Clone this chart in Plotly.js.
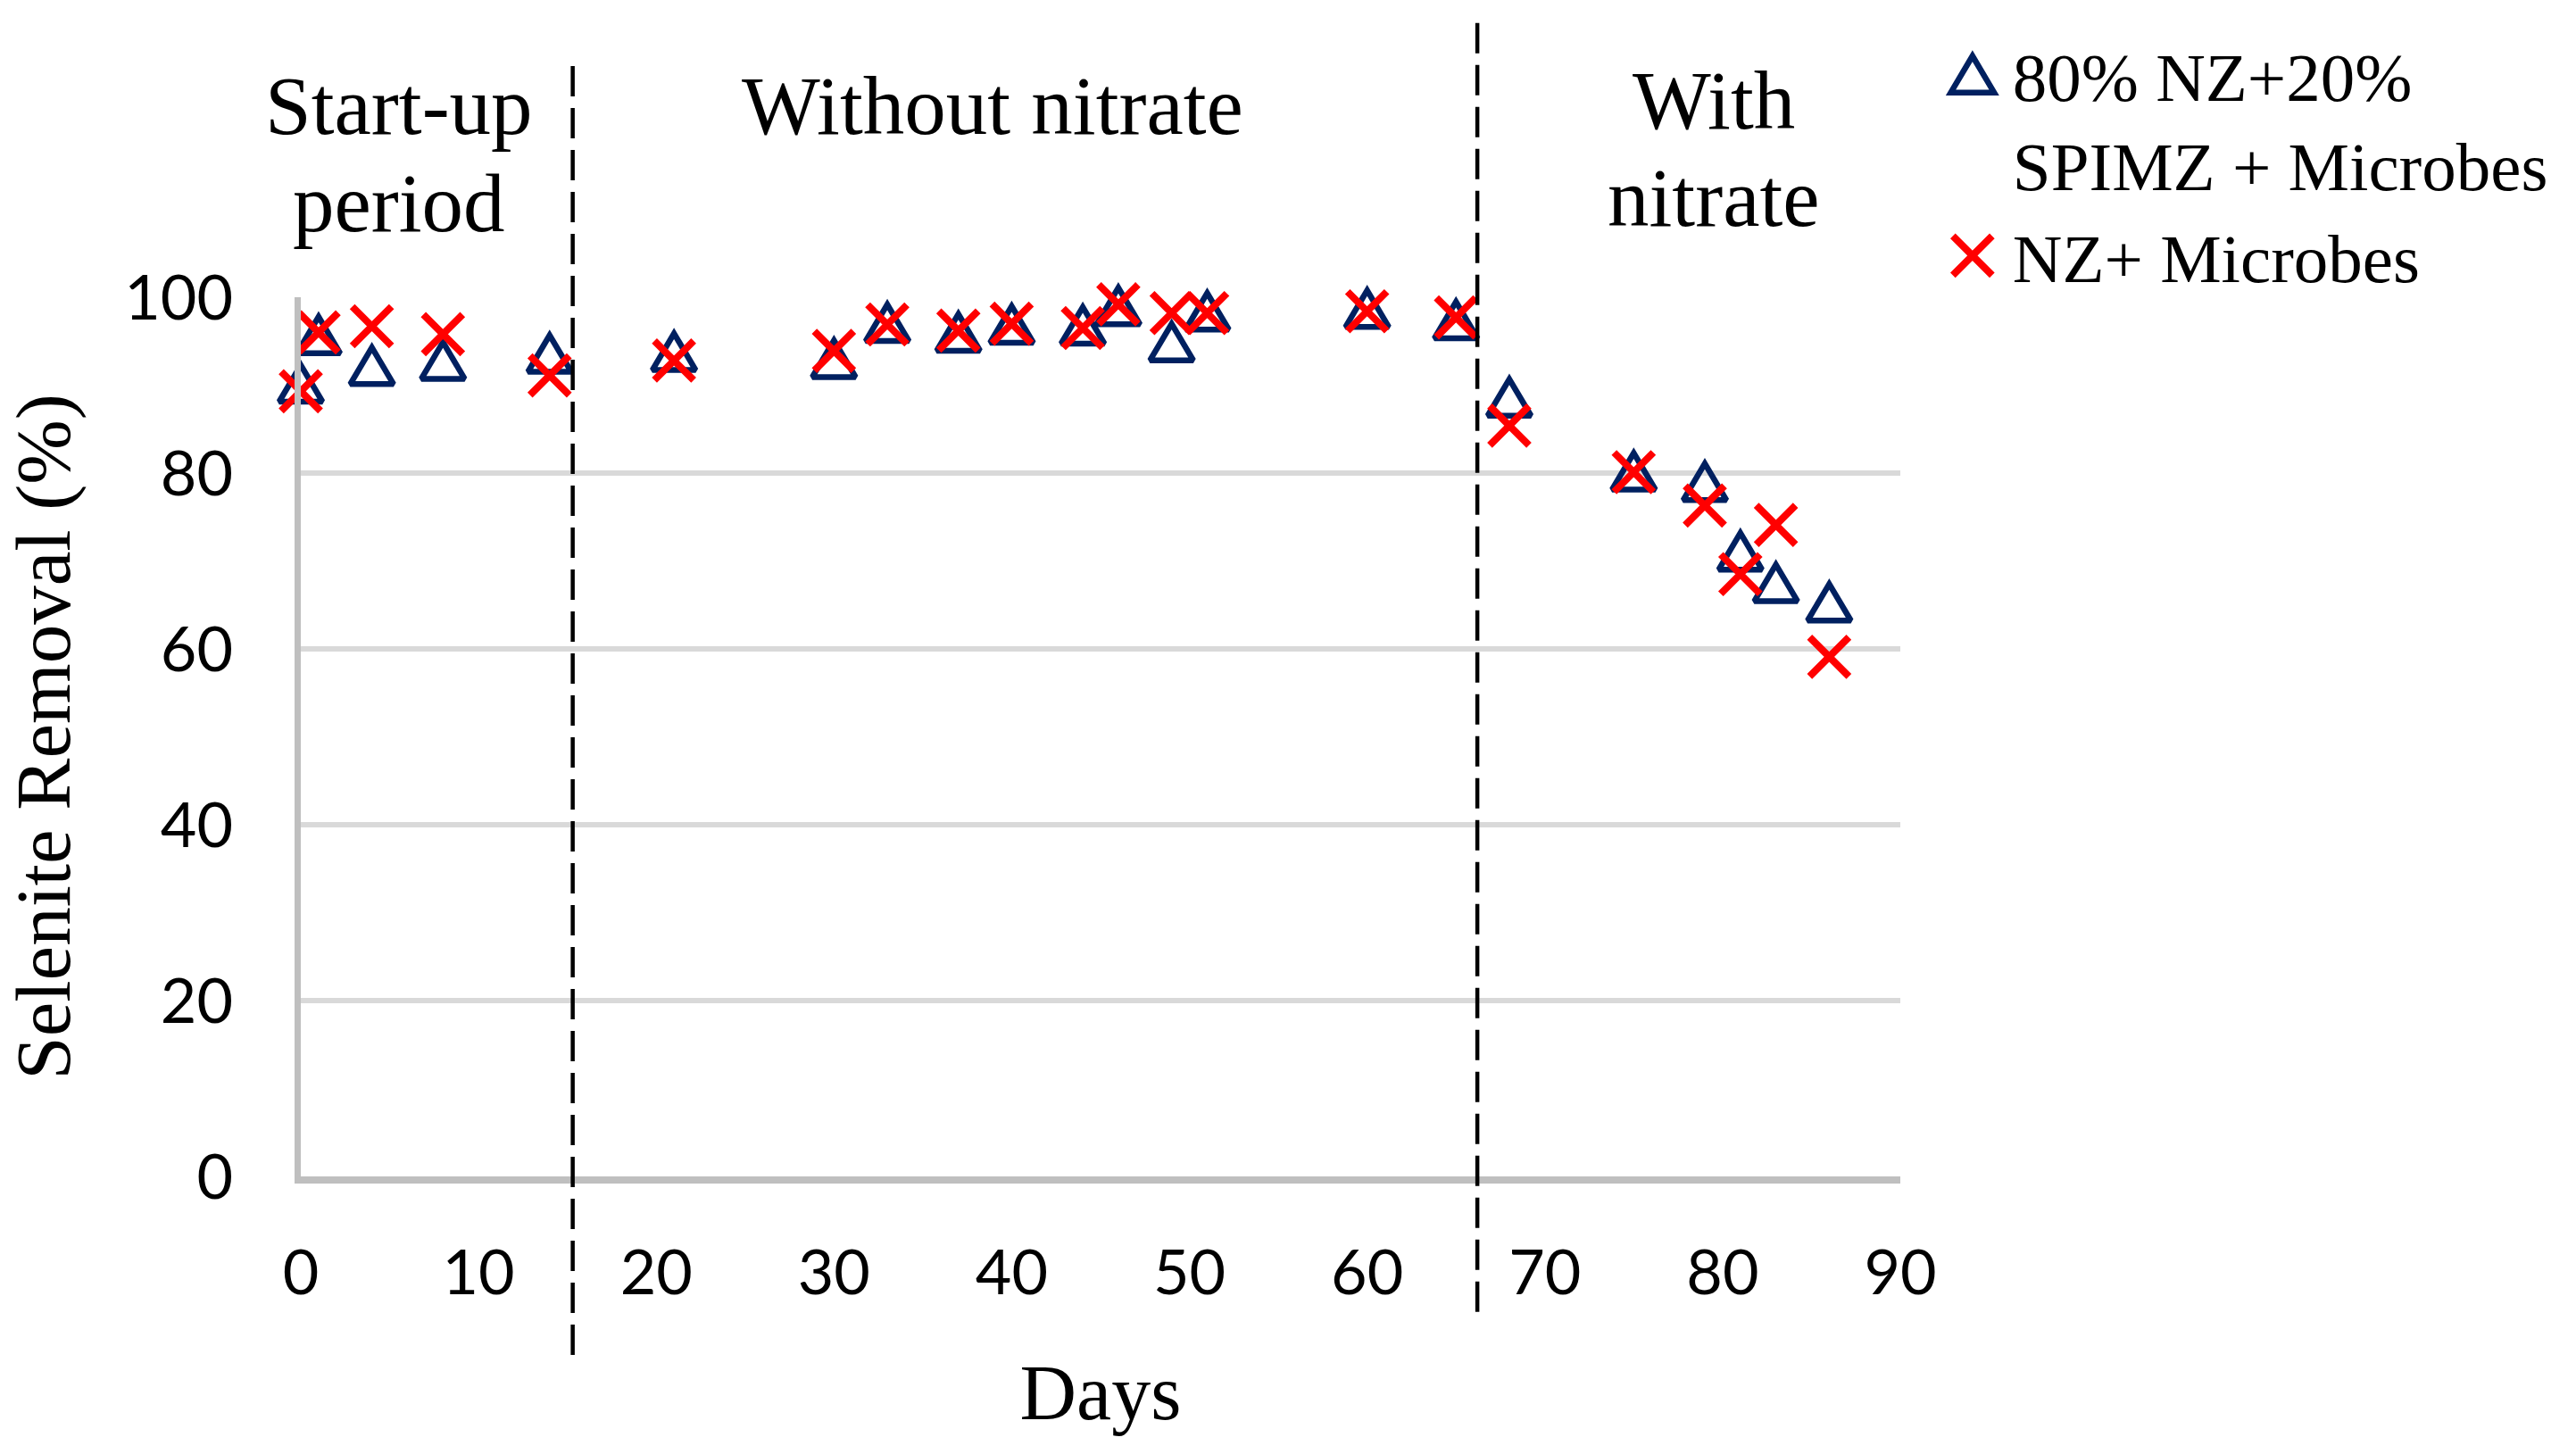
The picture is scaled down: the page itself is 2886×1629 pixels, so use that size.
<!DOCTYPE html>
<html><head><meta charset="utf-8">
<script src="https://cdn.plot.ly/plotly-3.0.1.min.js"></script>
<style>html,body{margin:0;padding:0;background:#fff;} #chart{width:2886px;height:1629px;}</style>
</head><body><div id="chart"></div>
<script>
const days = [0,1,4,8,14,21,30,33,37,40,44,46,49,51,60,65,68,75,79,81,83,86];
const spimzRemoval = [90.2,95.7,92.2,92.8,93.6,93.8,93.0,97.1,96.0,96.9,96.8,99.0,94.9,98.4,98.7,97.4,88.6,80.2,79.0,71.1,67.5,65.3];
const nzRemoval = [89.3,96.0,96.7,95.8,91.1,92.8,93.9,96.9,96.2,97.0,96.5,99.2,98.2,98.2,98.4,97.7,85.4,80.1,76.3,68.5,74.1,59.1];
const seriesNames = ['80% NZ+20%<br>SPIMZ + Microbes', 'NZ+ Microbes'];
const phaseBoundaries = [15.3, 66.2];
const phaseLabelLines = ['Start-up', 'period', 'Without nitrate', 'With', 'nitrate'];
const phaseLabelDays = [5.5, 5.5, 38.9, 79.5, 79.5];
const yTicks = [0, 20, 40, 60, 80, 100];
const xTicks = [0, 10, 20, 30, 40, 50, 60, 70, 80, 90];

const serif = 'Liberation Serif, Times New Roman, serif';
const sans = 'Lato, Carlito, sans-serif';

const triSize = 42, xSize = 44, triLine = 6.5, xLine = 8, triStretch = 1.3;
const traces = [
  {x: days, y: spimzRemoval, name: seriesNames[0], type: 'scatter', mode: 'markers', cliponaxis: false,
   marker: {symbol: 'triangle-up-open', size: triSize, color: '#002060', line: {color: '#002060', width: triLine}}},
  {x: days, y: nzRemoval, name: seriesNames[1], type: 'scatter', mode: 'markers', cliponaxis: false,
   marker: {symbol: 'x-thin-open', size: xSize, color: '#ff0000', line: {color: '#ff0000', width: xLine}}}
];

const shapeTops = [1.265, 1.316];
const shapeBottoms = [-0.203, -0.154];
const shapes = phaseBoundaries.map((d, i) => ({
  type: 'line', xref: 'x', yref: 'paper', x0: d, x1: d, y0: shapeBottoms[i], y1: shapeTops[i],
  line: {color: '#000', width: 4.5, dash: '34px,13px'}
}));

const labelY = [1.218, 1.107, 1.218, 1.224, 1.113];
const annotations = phaseLabelLines.map((t, i) => ({
  text: t, xref: 'x', yref: 'paper', x: phaseLabelDays[i], y: labelY[i], showarrow: false,
  xanchor: 'center', yanchor: 'middle', align: 'center', font: {family: serif, size: 93, color: '#000'}
}));

const layout = {
  width: 2886, height: 1629,
  margin: {l: 337, r: 757, t: 333, b: 311},
  paper_bgcolor: '#fff', plot_bgcolor: '#fff',
  showlegend: true,
  legend: {x: 1.020, xanchor: 'left', y: 1.311, yanchor: 'top', valign: 'top',
    font: {family: serif, size: 77, color: '#000'}, bgcolor: 'rgba(0,0,0,0)', tracegroupgap: 0, itemwidth: 80},
  xaxis: {range: [0, 90], tickvals: xTicks, ticktext: xTicks.map(String), showgrid: false, zeroline: false,
    showline: true, linecolor: '#bfbfbf', linewidth: 8, ticks: '', ticklabelstandoff: 40,
    tickfont: {family: sans, size: 70, color: '#000'},
    title: {text: 'Days', font: {family: serif, size: 88, color: '#000'}, standoff: 67}},
  yaxis: {range: [0, 100], tickvals: yTicks, ticktext: yTicks.map(String), showgrid: true, gridcolor: '#d9d9d9', gridwidth: 6,
    zeroline: false, showline: true, linecolor: '#bfbfbf', linewidth: 7, ticks: '', ticklabelstandoff: 55,
    tickfont: {family: sans, size: 70, color: '#000'},
    title: {text: 'Selenite Removal (%)', font: {family: serif, size: 87, color: '#000'}, standoff: 54}},
  shapes: shapes,
  annotations: annotations
};

// Excel-like taller triangle: stretch vertically and centre the glyph box on the point
function reshapeTriangle(p, s, k, w) {
  const bb = p.getBBox();
  const cy = (bb.y + bb.height / 2) * s * k;
  const tr = p.getAttribute('transform') || '';
  p.setAttribute('transform', tr + ' translate(0,' + (-cy) + ') scale(' + s + ',' + (s * k) + ')');
  p.setAttribute('vector-effect', 'non-scaling-stroke');
  p.style.strokeWidth = w + 'px';
}

Plotly.newPlot('chart', traces, layout, {staticPlot: true}).then(function () {
  const gd = document.getElementById('chart');
  const plotTraces = gd.querySelectorAll('.scatterlayer .trace');
  if (plotTraces[0]) plotTraces[0].querySelectorAll('path.point').forEach(function (p) {
    reshapeTriangle(p, 1, triStretch, triLine);
  });
  const legTraces = gd.querySelectorAll('.legend .traces');
  if (legTraces[0]) legTraces[0].querySelectorAll('path.scatterpts').forEach(function (p) {
    reshapeTriangle(p, triSize / 16, triStretch, triLine);
  });
  if (legTraces[1]) legTraces[1].querySelectorAll('path.scatterpts').forEach(function (p) {
    const tr = p.getAttribute('transform') || '';
    p.setAttribute('transform', tr + ' scale(' + (xSize / 16) + ')');
    p.setAttribute('vector-effect', 'non-scaling-stroke');
    p.style.strokeWidth = xLine + 'px';
  });
});
</script></body></html>
